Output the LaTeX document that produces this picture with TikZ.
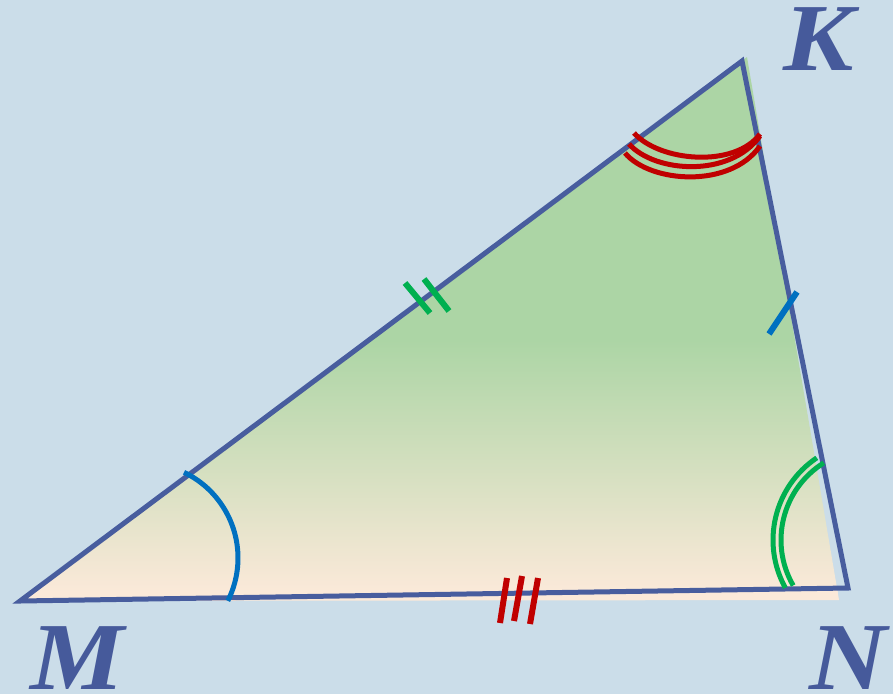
\documentclass[tikz,border=0pt]{standalone}
\usepackage{fontspec}
\setmainfont{Liberation Serif}
\begin{document}
\begin{tikzpicture}[x=1pt,y=-1pt,
  side/.style={draw=sidecol,line width=5pt,line join=miter},
  greenmark/.style={draw=markgreen,line width=5pt},
  redmark/.style={draw=markred,line width=5pt},
  bluemark/.style={draw=markblue,line width=5pt},
  tickg/.style={draw=markgreen,line width=6pt},
  tickr/.style={draw=markred,line width=6pt},
  tickb/.style={draw=markblue,line width=6pt},
  vlabel/.style={text=labelcol,inner sep=0pt,font=\fontsize{96}{96}\selectfont\bfseries\itshape}]
\definecolor{bgcol}{RGB}{203,221,233}
\definecolor{sidecol}{RGB}{72,93,158}
\definecolor{labelcol}{RGB}{70,90,155}
\definecolor{fillgreen}{RGB}{172,213,165}
\definecolor{fillpeach}{RGB}{251,233,217}
\definecolor{markgreen}{RGB}{0,176,80}
\definecolor{markred}{RGB}{192,0,0}
\definecolor{markblue}{RGB}{0,112,192}
% background
\fill[bgcol] (0,0) rectangle (893,694);
\useasboundingbox (0,0) rectangle (893,694);
% filled area
\coordinate (fM) at (20,601);
\coordinate (fK) at (747,57);
\coordinate (fN) at (839,600);
\begin{scope}
  \clip (fM) -- (fK) -- (fN) -- cycle;
  \fill[fillgreen] (0,0) rectangle (893,341);
  \shade[top color=fillgreen,bottom color=fillpeach] (0,340) rectangle (893,592);
  \fill[fillpeach] (0,591) rectangle (893,694);
\end{scope}
% triangle vertices
\coordinate (M) at (20,601);
\coordinate (K) at (742,61);
\coordinate (N) at (848,588);
\draw[side] (M) -- (K) -- (N) -- cycle;
% angle M (blue)
\coordinate (bc) at (143,558);
\draw[bluemark] (bc) ++(-64.4:95) arc[start angle=-64.4,end angle=26.8,radius=95];
% angle K (red, triple)
\coordinate (r1a) at (634,133); \coordinate (r1b) at (760,134);
\coordinate (r2a) at (629,144); \coordinate (r2b) at (760,136);
\coordinate (r3a) at (625,153); \coordinate (r3b) at (760,146);
\draw[redmark] (r1a) .. controls (660,162) and (735,168) .. (r1b);
\draw[redmark] (r2a) .. controls (655,173) and (730,178) .. (r2b);
\draw[redmark] (r3a) .. controls (650,183) and (730,189) .. (r3b);
% angle N (green, double)
\coordinate (gc) at (872,540);
\draw[greenmark] (gc) ++(-123.9:99) arc[start angle=-123.9,end angle=-208.9,radius=99];
\draw[greenmark] (gc) ++(-122:91) arc[start angle=-122,end angle=-210,radius=91];
% ticks on MK (green double)
\coordinate (g1a) at (405,283); \coordinate (g1b) at (430,313);
\coordinate (g2a) at (424,279); \coordinate (g2b) at (449,311);
\draw[tickg] (g1a) -- (g1b);
\draw[tickg] (g2a) -- (g2b);
% tick on KN (blue single)
\coordinate (b1a) at (797,292); \coordinate (b1b) at (769,334);
\draw[tickb] (b1a) -- (b1b);
% ticks on MN (red triple)
\coordinate (t1a) at (507,578); \coordinate (t1b) at (500,623);
\coordinate (t2a) at (522,576); \coordinate (t2b) at (514,621);
\coordinate (t3a) at (538,578); \coordinate (t3b) at (530,624);
\draw[tickr] (t1a) -- (t1b);
\draw[tickr] (t2a) -- (t2b);
\draw[tickr] (t3a) -- (t3b);
% labels
\node[vlabel] (lK) at (819,39) {\scalebox{1.1}[1]{K}};
\node[vlabel] (lM) at (77,658) {\scalebox{1.1}[1]{M}};
\node[vlabel] (lN) at (848,658) {\scalebox{1.12}[1]{N}};
\end{tikzpicture}
\end{document}
